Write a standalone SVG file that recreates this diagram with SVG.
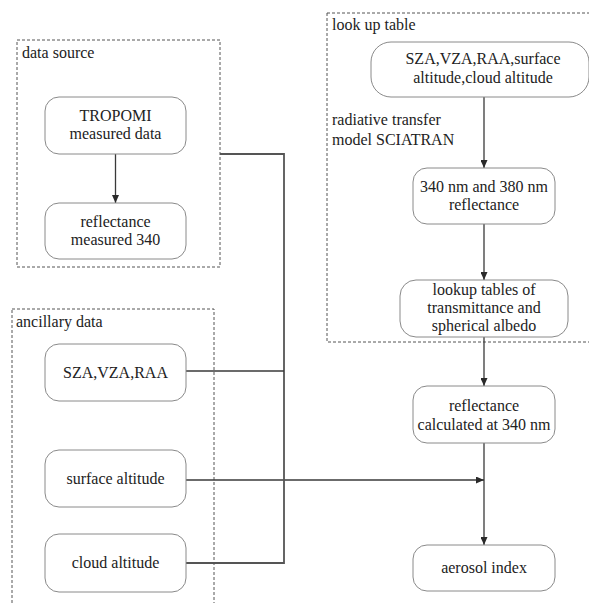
<svg xmlns="http://www.w3.org/2000/svg" width="589" height="603" viewBox="0 0 589 603">
<style>
.bg{fill:#fff}
.group{fill:none;stroke:#555;stroke-width:1;stroke-dasharray:3,2}
.node rect{fill:#fff;stroke:#8a8a8a;stroke-width:1}
text{font-family:"Liberation Serif","Times New Roman",serif;font-size:16px;fill:#222}
.c{text-anchor:middle}
.conn{fill:none;stroke:#3a3a3a;stroke-width:1.3}
.bus{fill:none;stroke:#555;stroke-width:1.8}
</style>
<defs>
<marker id="arr" viewBox="0 0 8 7" refX="8" refY="3.5" markerWidth="8" markerHeight="7" markerUnits="userSpaceOnUse" orient="auto">
<path d="M0,0 L8,3.5 L0,7 Z" fill="#2a2a2a"/>
</marker>
</defs>
<rect class="bg" x="0" y="0" width="589" height="603"/>

<g id="group-data-source">
<rect class="group" x="17" y="40" width="203" height="227"/>
<text x="22" y="58">data source</text>
</g>
<g id="group-ancillary">
<rect class="group" x="12" y="309" width="202" height="310"/>
<text x="16" y="327">ancillary data</text>
</g>
<g id="group-lut">
<rect class="group" x="327" y="13" width="270" height="329"/>
<text x="332" y="30">look up table</text>
<text x="332" y="125">radiative transfer</text>
<text x="332" y="145">model SCIATRAN</text>
</g>

<g id="connectors">
<line class="conn" x1="115.5" y1="154" x2="115.5" y2="203" marker-end="url(#arr)"/>
<line class="conn" x1="484" y1="97" x2="484" y2="168" marker-end="url(#arr)"/>
<line class="conn" x1="484" y1="224" x2="484" y2="280" marker-end="url(#arr)"/>
<line class="conn" x1="484" y1="337" x2="484" y2="386" marker-end="url(#arr)"/>
<line class="conn" x1="484" y1="443" x2="484" y2="545" marker-end="url(#arr)"/>
<line class="conn" x1="186" y1="480" x2="484" y2="480" marker-end="url(#arr)"/>
<polyline class="bus" points="220,154 284,154 284,563 186,563"/>
<line class="conn" x1="186" y1="371" x2="284" y2="371"/>
</g>

<g id="node-tropomi" class="node">
<rect x="45" y="97" width="141" height="57" rx="14"/>
<text class="c" x="115.5" y="121">TROPOMI</text>
<text class="c" x="115.5" y="139">measured data</text>
</g>
<g id="node-reflectance-measured" class="node">
<rect x="45" y="203" width="141" height="56" rx="14"/>
<text class="c" x="115.5" y="227">reflectance</text>
<text class="c" x="115.5" y="245">measured 340</text>
</g>
<g id="node-sza" class="node">
<rect x="45" y="344" width="141" height="57" rx="14"/>
<text class="c" x="115.5" y="378">SZA,VZA,RAA</text>
</g>
<g id="node-surface" class="node">
<rect x="45" y="450" width="141" height="57" rx="14"/>
<text class="c" x="115.5" y="484">surface altitude</text>
</g>
<g id="node-cloud" class="node">
<rect x="45" y="534" width="141" height="58" rx="14"/>
<text class="c" x="115.5" y="568">cloud altitude</text>
</g>
<g id="node-lut-inputs" class="node">
<rect x="371" y="42" width="218" height="55" rx="20"/>
<text class="c" x="483" y="64">SZA,VZA,RAA,surface</text>
<text class="c" x="483" y="83">altitude,cloud altitude</text>
</g>
<g id="node-340-380" class="node">
<rect x="413" y="168" width="142" height="56" rx="14"/>
<text class="c" x="484" y="192">340 nm and 380 nm</text>
<text class="c" x="484" y="210">reflectance</text>
</g>
<g id="node-lookup-tables" class="node">
<rect x="400" y="280" width="168" height="57" rx="16"/>
<text class="c" x="484" y="295">lookup tables of</text>
<text class="c" x="484" y="313">transmittance and</text>
<text class="c" x="484" y="331">spherical albedo</text>
</g>
<g id="node-reflectance-calc" class="node">
<rect x="413" y="386" width="142" height="57" rx="14"/>
<text class="c" x="484" y="411">reflectance</text>
<text class="c" x="484" y="430">calculated at 340 nm</text>
</g>
<g id="node-aerosol" class="node">
<rect x="413" y="545" width="142" height="46" rx="14"/>
<text class="c" x="484" y="573">aerosol index</text>
</g>
</svg>
